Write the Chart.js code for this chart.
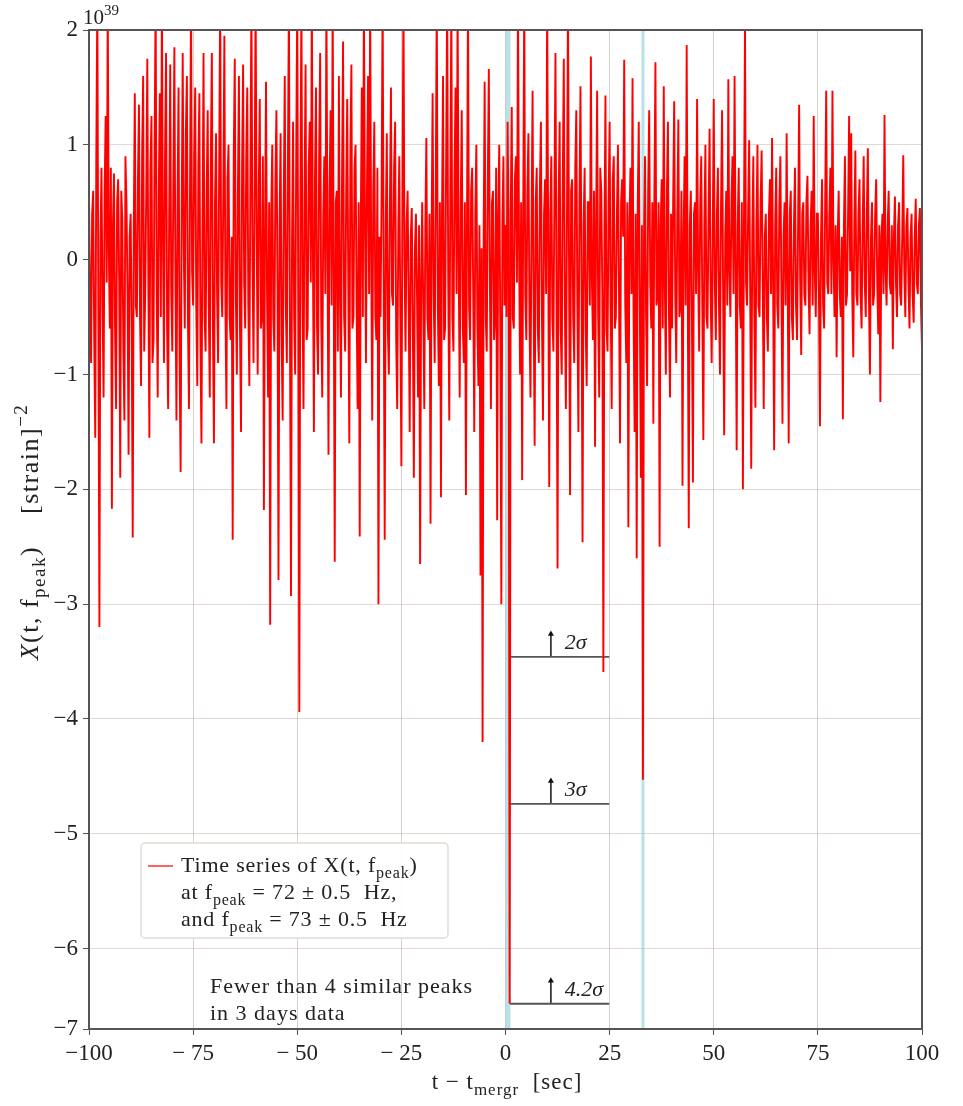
<!DOCTYPE html>
<html>
<head>
<meta charset="utf-8">
<script src="https://cdn.jsdelivr.net/npm/chart.js@4.4.0/dist/chart.umd.min.js"></script>
<style>
  html, body { margin: 0; padding: 0; background: #fff; }
</style>
</head>
<body>
<canvas id="chart" width="963" height="1106"></canvas>
<script>
// sampling grid of the time series (seconds from merger)
const startTime = -100;
const timeStep = 0.25;

// X(t, f_peak) in units of 1e39, one row = 10 s
const strainX = [
  0.55,-0.3,-0.9,0.4,0.6,-0.7,-1.55,0.9,2.3,-0.5,-3.2,0.2,0.8,-0.4,-1.2,0.6,1.25,-0.2,2.3,0.1,-0.6,0.8,-2.17,0.3,0.75,-0.6,-1.3,0.5,0.7,-0.2,-1.9,0.6,0.35,-0.8,-1.4,0.9,0.5,-0.3,-1.7,0.2,
  0.4,-0.6,-2.42,0.3,1.45,-0.4,-0.5,0.7,1.35,-0.5,-1.1,0.9,1.6,-0.8,-0.3,0.6,1.75,-0.2,-1.55,0.8,1.25,-0.9,-0.7,1.0,2.3,-0.3,-1.2,0.6,1.45,-0.5,2.3,0.2,-0.9,0.9,1.8,-0.6,-1.3,0.4,1.7,-0.3,
  -0.8,0.7,1.85,-0.2,-1.4,0.5,1.5,-0.9,-1.85,0.4,1.8,0.1,-0.6,1.1,1.6,-0.5,-1.3,0.6,2.3,-0.1,-0.4,0.9,1.5,-0.4,-1.1,0.8,1.45,-0.7,-1.6,0.3,1.8,-0.5,-0.8,0.6,1.3,-0.4,-1.2,0.9,1.8,-0.6,
  -1.6,0.5,1.1,-0.3,-0.9,0.8,2.3,-0.2,-0.5,0.6,1.95,-0.4,-1.3,0.7,1.0,-0.5,-0.7,0.2,-2.44,0.9,1.75,-0.3,-1.0,0.6,1.6,-0.6,-1.5,0.8,1.7,-0.2,-0.6,0.9,1.5,-0.4,-1.1,0.7,2.3,0.0,-0.9,0.5,
  2.3,0.3,-1.0,0.6,1.4,-0.6,-0.5,0.9,-2.18,0.2,1.55,-0.3,-1.2,0.5,-3.18,0.4,1.0,-0.5,-0.8,0.7,1.3,-0.2,-2.79,0.3,1.1,-0.7,-1.4,0.5,1.6,-0.4,-0.9,0.8,2.3,-0.6,-2.93,0.2,1.2,-0.5,-1.0,0.9,
  2.3,-0.4,-3.94,0.5,2.3,-0.3,-1.3,0.6,1.7,-0.7,-0.6,0.8,1.2,-0.2,2.3,0.1,-1.5,0.7,1.5,-0.6,-1.0,0.9,1.8,-0.5,-1.2,0.4,0.9,-0.3,2.3,0.2,-1.7,0.6,1.3,-0.4,2.3,-0.1,-2.63,0.5,0.6,-0.8,
  1.6,-0.3,-1.2,0.7,1.9,-0.5,-0.8,0.6,1.4,-0.2,-1.6,0.9,1.7,-0.6,-0.5,0.8,1.0,-0.4,-1.3,0.5,-2.41,0.3,1.5,-0.5,2.3,0.4,-0.9,0.7,1.6,-0.3,2.3,0.1,-1.4,0.6,1.2,-0.5,-0.7,0.8,-3.0,0.2,
  -0.5,0.6,2.3,-0.2,-2.44,0.3,1.1,-0.6,-1.0,0.5,1.5,-0.3,-0.4,0.8,1.2,-0.7,-1.3,0.2,0.9,-0.5,-1.8,0.4,2.3,0.0,-0.8,0.3,0.6,-0.4,-1.5,0.2,0.45,-0.6,-1.9,0.1,0.4,-0.3,-1.2,0.3,-2.65,-0.2,
  0.5,-0.4,-1.3,0.3,1.06,-0.5,-0.7,0.4,-2.3,0.2,1.45,-0.3,-0.9,0.6,2.3,-0.4,-1.1,0.5,-2.07,0.4,1.6,-0.7,-0.6,0.9,2.3,-0.2,-1.4,0.6,2.3,-0.5,-0.8,0.7,1.5,-0.3,2.3,0.0,-1.2,0.5,1.3,-0.6,
  -0.9,0.5,-2.05,0.3,2.3,-0.4,-0.7,0.6,0.8,-0.3,-1.5,0.4,1.0,-0.6,-1.1,0.3,-2.75,0.1,-4.2,0.2,1.55,-0.5,-0.8,0.7,1.66,-0.2,-1.3,0.5,0.6,-0.7,-0.5,0.8,-2.27,0.4,1.0,-0.6,-3.0,0.3,0.9,-0.4,
  0.3,-0.5,1.2,0.2,-6.48,0.4,1.33,-0.5,-0.6,0.7,0.9,-0.2,2.3,0.1,-1.0,0.5,-1.92,0.4,2.3,-0.3,-0.7,0.6,1.1,-0.5,-1.2,0.3,1.47,-0.4,-1.62,0.5,0.8,-0.6,-0.9,0.6,1.2,-0.5,-1.4,0.4,0.7,-0.3,
  2.3,0.2,-1.98,0.4,0.9,-0.5,-0.8,0.6,1.8,-0.3,-2.69,0.5,1.2,-0.6,-1.0,0.7,1.75,-0.4,-1.3,0.3,2.3,0.0,-2.05,0.6,0.7,-0.5,-0.9,0.8,1.3,-0.4,-1.5,0.5,1.51,-0.2,-2.46,0.3,0.8,-0.6,-1.1,0.5,
  0.5,-0.4,1.77,-0.2,-0.7,0.6,-1.63,0.3,1.47,-0.5,-1.2,0.8,0.6,-0.3,-3.59,0.2,1.43,-0.6,-0.8,0.5,1.2,-0.4,-1.3,0.7,0.9,-0.6,-0.5,0.4,1.0,-0.3,-1.6,0.5,0.7,0.2,1.74,-0.4,-0.9,0.5,-2.33,0.3,
  0.8,-0.3,1.58,-0.5,-1.5,0.4,-2.6,0.5,1.2,-0.4,-1.9,0.3,-4.53,0.2,0.9,-0.5,-1.1,0.6,1.3,-0.2,-0.6,0.5,-1.43,0.6,1.72,-0.4,-0.3,0.5,-2.5,0.3,0.7,-0.6,1.51,-0.2,-1.0,0.6,1.2,-0.5,-1.2,0.4,
  -0.6,0.5,1.38,-0.3,-0.9,0.4,1.22,-0.5,-0.4,0.6,-1.97,0.2,0.9,-0.4,1.87,-0.2,-2.34,0.3,0.6,-0.5,-1.94,0.4,0.5,-0.3,1.4,-0.1,-0.8,0.5,0.9,-0.4,-1.57,0.3,1.0,-0.5,-0.6,0.4,1.14,-0.3,-0.9,0.2,
  1.4,-0.2,-0.7,0.4,0.8,-0.4,-1.0,0.5,1.3,-0.3,-1.53,0.2,0.6,-0.4,1.57,-0.1,-0.5,0.5,0.9,-0.3,1.6,0.0,-1.66,0.3,0.8,-0.4,-0.6,0.5,-2.0,0.3,2.05,-0.2,-0.4,0.4,1.04,-0.3,-1.82,0.2,0.9,-0.5,
  -1.29,0.3,1.0,-0.4,-0.5,0.5,0.95,-0.2,-1.3,0.2,0.4,-0.5,-0.8,0.4,0.7,-0.3,1.06,-0.2,-1.66,0.3,0.8,-0.4,-0.6,0.5,0.9,-0.3,-1.43,0.2,0.5,-0.4,1.1,-0.2,-1.6,0.4,0.6,-0.5,-0.7,0.3,0.8,-0.4,
  -0.7,0.3,1.35,-0.2,-0.83,0.4,0.5,-0.3,-0.4,0.5,0.73,-0.2,-0.65,0.3,0.6,-0.4,1.25,-0.1,-0.5,0.4,0.4,-0.3,-1.45,0.2,0.7,-0.4,-0.6,0.5,1.47,-0.2,-0.3,0.4,0.8,-0.3,1.47,0.0,-0.5,0.3,-0.85,0.2,
  0.6,-0.3,-0.5,0.2,-1.39,0.3,0.9,-0.4,-0.3,0.4,1.25,-0.1,1.1,-0.3,-0.85,0.3,0.95,-0.3,-0.4,0.4,0.7,-0.3,-0.6,0.3,0.9,-0.2,-0.5,0.4,0.97,-0.3,-1.0,0.2,0.5,-0.4,-0.3,0.4,0.7,-0.2,-0.65,0.3,
  -1.24,0.2,0.4,-0.3,1.26,-0.1,-0.4,0.3,0.6,-0.2,-0.3,0.3,-0.78,0.2,0.55,-0.2,-0.5,0.3,0.5,-0.3,-0.4,0.2,0.91,-0.1,-0.5,0.3,0.45,-0.2,-0.6,0.2,0.4,-0.3,-0.55,0.2,0.53,-0.2,-0.3,0.3,0.45,-0.4,
  -0.78
];

const xTicks = [-100, -75, -50, -25, 0, 25, 50, 75, 100];
const xTickLabels = ['−100', '− 75', '− 50', '− 25', '0', '25', '50', '75', '100'];
const yTicks = [-6.7, -6, -5, -4, -3, -2, -1, 0, 1, 2];
const yTickLabels = ['−7', '−6', '−5', '−4', '−3', '−2', '−1', '0', '1', '2'];

// vertical markers (cyan) and significance thresholds
const markerTimes = [0.6, 33];
const markerWidths = [5, 3];
const sigmaLevels = [-3.46, -4.74, -6.48];
const sigmaLabels = ['2σ', '3σ', '4.2σ'];
const sigmaStart = 1.1;
const sigmaEnd = 24.9;
const arrowTime = 10.9;
const arrowLength = 0.2;

const FONT = 'Liberation Serif';

const seriesPoints = strainX.map((v, i) => ({ x: startTime + i * timeStep, y: v }));

const datasets = [{
  data: seriesPoints,
  borderColor: '#ff0000',
  borderWidth: 1.9,
  pointRadius: 0,
  order: 1
}];

markerTimes.forEach((t, i) => {
  datasets.push({
    data: [{ x: t, y: yTicks[0] }, { x: t, y: yTicks[yTicks.length - 1] }],
    borderColor: 'rgba(140,205,215,0.6)',
    borderWidth: markerWidths[i],
    pointRadius: 0,
    order: 5
  });
});

sigmaLevels.forEach(lvl => {
  datasets.push({
    data: [{ x: sigmaStart, y: lvl }, { x: sigmaEnd, y: lvl }],
    borderColor: '#555',
    borderWidth: 1.8,
    pointRadius: 0,
    order: 2
  });
  // small upward arrow
  datasets.push({
    data: [{ x: arrowTime, y: lvl }, { x: arrowTime, y: lvl + arrowLength }],
    borderColor: '#111',
    backgroundColor: '#111',
    borderWidth: 1.5,
    pointStyle: 'triangle',
    pointRadius: [0, 3.5],
    pointBorderWidth: 0,
    order: 2
  });
});

// draw text with sub/superscripts
function drawRich(ctx, parts, x, y, size, align, spacing) {
  const fontOf = p => (p.italic ? 'italic ' : '') + ((p.sub || p.sup) ? Math.round(size * 0.72) : size) + 'px "' + FONT + '"';
  ctx.letterSpacing = (spacing || 0) + 'px';
  let total = 0;
  const widths = parts.map(p => {
    ctx.font = fontOf(p);
    const w = ctx.measureText(p.t).width;
    total += w;
    return w;
  });
  let cx = align === 'center' ? x - total / 2 : x;
  ctx.textAlign = 'left';
  ctx.textBaseline = 'alphabetic';
  parts.forEach((p, i) => {
    ctx.font = fontOf(p);
    const dy = p.sub ? size * 0.28 : p.sup ? -size * 0.42 : 0;
    ctx.fillText(p.t, cx, y + dy);
    cx += widths[i];
  });
  ctx.letterSpacing = '0px';
}

const annotations = {
  id: 'annotations',
  afterDatasetsDraw(chart) {
    const ctx = chart.ctx;
    const a = chart.chartArea;
    ctx.save();
    ctx.strokeStyle = '#555';
    ctx.lineWidth = 2;
    ctx.strokeRect(a.left, a.top, a.right - a.left, a.bottom - a.top);
    ctx.restore();
  },
  afterDraw(chart) {
    const ctx = chart.ctx;
    const xs = chart.scales.x;
    const ys = chart.scales.y;
    ctx.save();
    ctx.fillStyle = '#222';

    // exponent
    drawRich(ctx, [{ t: '10' }, { t: '39', sup: true }], 83, 24, 21, 'left');

    // sigma labels
    sigmaLevels.forEach((lvl, i) => {
      ctx.font = 'italic 22px "' + FONT + '"';
      ctx.textAlign = 'left';
      ctx.textBaseline = 'alphabetic';
      ctx.fillText(sigmaLabels[i], xs.getPixelForValue(14.2), ys.getPixelForValue(lvl) - 8);
    });

    // legend box
    ctx.fillStyle = 'rgba(255,255,255,0.95)';
    ctx.strokeStyle = '#e2dcd6';
    ctx.lineWidth = 1.5;
    ctx.beginPath();
    ctx.roundRect(141, 843, 307, 95, 4);
    ctx.fill();
    ctx.stroke();
    ctx.strokeStyle = 'rgba(255,70,70,0.85)';
    ctx.lineWidth = 2;
    ctx.beginPath();
    ctx.moveTo(148, 866);
    ctx.lineTo(173, 866);
    ctx.stroke();
    ctx.fillStyle = '#222';
    drawRich(ctx, [{ t: 'Time series of X(t, f' }, { t: 'peak', sub: true }, { t: ')' }], 181, 872, 22, 'left', 0.8);
    drawRich(ctx, [{ t: 'at f' }, { t: 'peak', sub: true }, { t: ' = 72 ± 0.5  Hz,' }], 181, 899, 22, 'left', 0.8);
    drawRich(ctx, [{ t: 'and f' }, { t: 'peak', sub: true }, { t: ' = 73 ± 0.5  Hz' }], 181, 926, 22, 'left', 0.8);

    // note
    drawRich(ctx, [{ t: 'Fewer than 4 similar peaks' }], 210, 993, 22, 'left', 1);
    drawRich(ctx, [{ t: 'in 3 days data' }], 210, 1020, 22, 'left', 1);

    // axis titles
    drawRich(ctx, [{ t: 't − t' }, { t: 'mergr', sub: true }, { t: '  [sec]' }], 507, 1089, 23, 'center', 1);
    ctx.save();
    ctx.translate(38, 532);
    ctx.rotate(-Math.PI / 2);
    drawRich(ctx, [{ t: 'X', italic: true }, { t: '(t, f' }, { t: 'peak', sub: true }, { t: ')    [strain]' }, { t: '−2', sup: true }], 0, 0, 26, 'center', 1.5);
    ctx.restore();

    ctx.restore();
  }
};

new Chart(document.getElementById('chart').getContext('2d'), {
  type: 'line',
  data: { datasets: datasets },
  options: {
    responsive: false,
    animation: false,
    layout: { padding: { top: 30, right: 41, bottom: 0, left: 0 } },
    plugins: {
      legend: { display: false },
      tooltip: { enabled: false }
    },
    scales: {
      x: {
        type: 'linear',
        min: -100,
        max: 100,
        afterBuildTicks: s => { s.ticks = xTicks.map(v => ({ value: v })); },
        afterFit: s => { s.height = 77; },
        ticks: {
          autoSkip: false,
          maxRotation: 0,
          padding: 5,
          color: '#222',
          font: { family: FONT, size: 23 },
          callback: (v, i) => xTickLabels[i]
        },
        grid: { color: 'rgba(170,155,140,0.45)', tickColor: '#555', tickLength: 6 },
        border: { color: '#555', width: 2 }
      },
      y: {
        min: yTicks[0],
        max: yTicks[yTicks.length - 1],
        afterBuildTicks: s => { s.ticks = yTicks.map(v => ({ value: v })); },
        afterFit: s => { s.width = 89; },
        ticks: {
          autoSkip: false,
          padding: 5,
          color: '#222',
          font: { family: FONT, size: 23 },
          callback: (v, i) => yTickLabels[i]
        },
        grid: { color: 'rgba(190,160,150,0.4)', tickColor: '#555', tickLength: 6 },
        border: { color: '#555', width: 2 }
      }
    }
  },
  plugins: [annotations]
});
</script>
</body>
</html>
